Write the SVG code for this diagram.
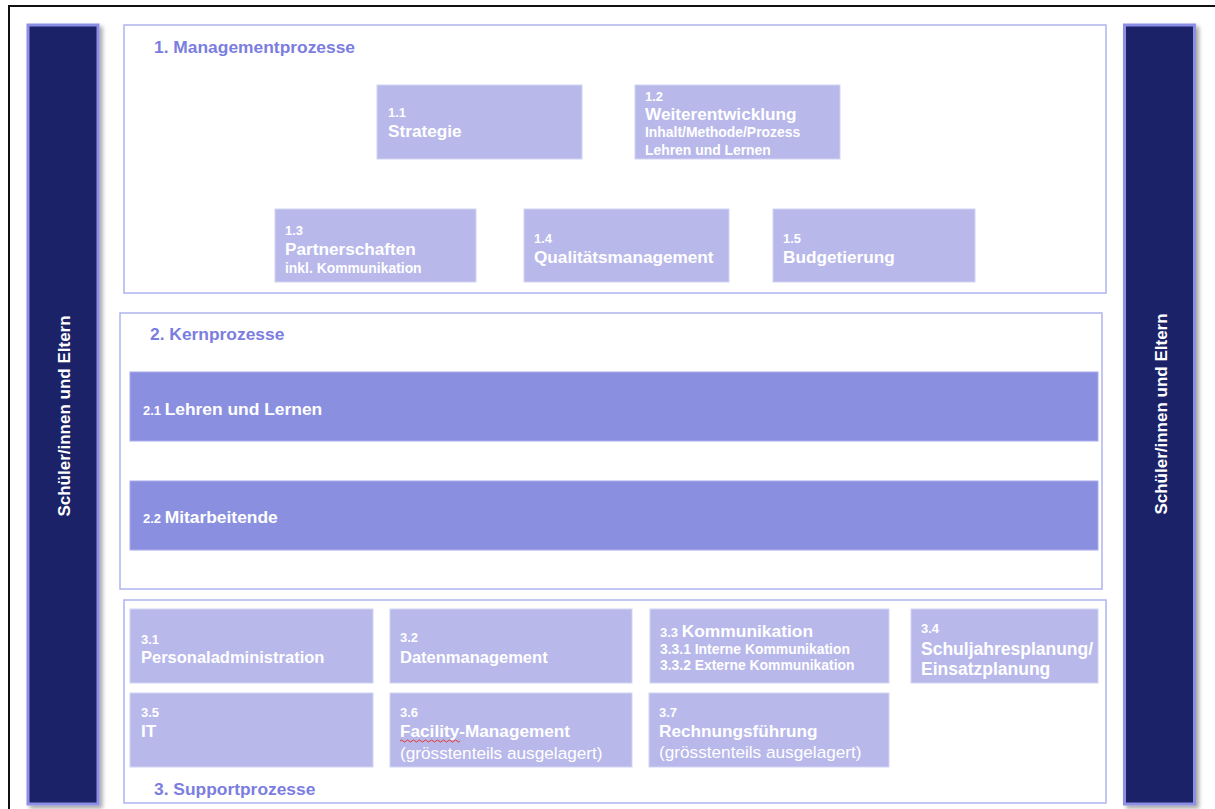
<svg xmlns="http://www.w3.org/2000/svg" width="1215" height="809" viewBox="0 0 1215 809">
  <defs>
    <filter id="shadow" x="-20%" y="-5%" width="150%" height="110%">
      <feDropShadow dx="3" dy="3" stdDeviation="2" flood-color="#000" flood-opacity="0.35"/>
    </filter>
    <style>
      text { font-family: "Liberation Sans", Arial, Helvetica, sans-serif; font-weight: bold; fill: #ffffff; }
      .frame { fill: none; stroke: #111; stroke-width: 2; }
      .side { fill: #1c2068; stroke: #8c8fe3; stroke-width: 3; }
      .sidetxt { font-size: 17px; }
      .section { fill: #ffffff; stroke: #b0b3ef; stroke-width: 1.5; }
      .stitle { font-size: 17.4px; fill: #7b7de0; }
      .node { fill: #b8b8ea; stroke: #d2d3f4; stroke-width: 1; }
      .core { fill: #8a8fe0; stroke: #a9acec; stroke-width: 1; }
      .num { font-size: 13px; }
      .title { font-size: 17.2px; }
      .title2 { font-size: 16.5px; }
      .ktitle { font-size: 17.4px; }
      .sub { font-size: 13.9px; }
      .reg { font-size: 17.2px; font-weight: normal; }
    </style>
  </defs>
  <rect x="0" y="0" width="1215" height="809" fill="#ffffff"/>
  <path class="frame" d="M9,809 V6 H1215"/>

  <g id="side-left">
    <rect class="side" x="28" y="25" width="70" height="779" filter="url(#shadow)"/>
    <text class="sidetxt" transform="translate(70,416) rotate(-90)" text-anchor="middle">Schüler/innen und Eltern</text>
  </g>
  <g id="side-right">
    <rect class="side" x="1124.5" y="25" width="70" height="779" filter="url(#shadow)"/>
    <text class="sidetxt" transform="translate(1167,414) rotate(-90)" text-anchor="middle">Schüler/innen und Eltern</text>
  </g>

  <g id="section-1">
    <rect class="section" x="124" y="25" width="982" height="268"/>
    <text class="stitle" x="154" y="53">1. Managementprozesse</text>
  </g>
  <g id="node-1-1">
    <rect class="node" x="377" y="85" width="205" height="74"/>
    <text class="num" x="388" y="117">1.1</text>
    <text class="title" x="388" y="137">Strategie</text>
  </g>
  <g id="node-1-2">
    <rect class="node" x="635" y="85" width="205" height="74"/>
    <text class="num" x="645" y="101">1.2</text>
    <text class="title" x="645" y="120">Weiterentwicklung</text>
    <text class="sub" x="645" y="137">Inhalt/Methode/Prozess</text>
    <text class="sub" x="645" y="155">Lehren und Lernen</text>
  </g>
  <g id="node-1-3">
    <rect class="node" x="275" y="209" width="201" height="73"/>
    <text class="num" x="285" y="235">1.3</text>
    <text class="title" x="285" y="255">Partnerschaften</text>
    <text class="sub" x="285" y="273">inkl. Kommunikation</text>
  </g>
  <g id="node-1-4">
    <rect class="node" x="524" y="209" width="205" height="73"/>
    <text class="num" x="534" y="243">1.4</text>
    <text class="title" x="534" y="263">Qualitätsmanagement</text>
  </g>
  <g id="node-1-5">
    <rect class="node" x="773" y="209" width="202" height="73"/>
    <text class="num" x="783" y="243">1.5</text>
    <text class="title" x="783" y="263">Budgetierung</text>
  </g>

  <g id="section-2">
    <rect class="section" x="120" y="313" width="982" height="276"/>
    <text class="stitle" x="150" y="340">2. Kernprozesse</text>
  </g>
  <g id="node-2-1">
    <rect class="core" x="130" y="372" width="968" height="69"/>
    <text x="143" y="415"><tspan class="num">2.1 </tspan><tspan class="ktitle">Lehren und Lernen</tspan></text>
  </g>
  <g id="node-2-2">
    <rect class="core" x="130" y="481" width="968" height="69"/>
    <text x="143" y="523"><tspan class="num">2.2 </tspan><tspan class="ktitle">Mitarbeitende</tspan></text>
  </g>

  <g id="section-3">
    <rect class="section" x="124" y="600" width="982" height="203"/>
    <text class="stitle" x="154" y="795">3. Supportprozesse</text>
  </g>
  <g id="node-3-1">
    <rect class="node" x="130" y="609" width="243" height="74"/>
    <text class="num" x="141" y="644">3.1</text>
    <text class="title2" x="141" y="663">Personaladministration</text>
  </g>
  <g id="node-3-2">
    <rect class="node" x="390" y="609" width="242" height="74"/>
    <text class="num" x="400" y="642">3.2</text>
    <text class="title2" x="400" y="663">Datenmanagement</text>
  </g>
  <g id="node-3-3">
    <rect class="node" x="650" y="609" width="239" height="74"/>
    <text x="660" y="637"><tspan class="num">3.3 </tspan><tspan class="ktitle">Kommunikation</tspan></text>
    <text class="sub" x="660" y="654">3.3.1 Interne Kommunikation</text>
    <text class="sub" x="660" y="670">3.3.2 Externe Kommunikation</text>
  </g>
  <g id="node-3-4">
    <rect class="node" x="911" y="609" width="187" height="74"/>
    <text class="num" x="921" y="633">3.4</text>
    <text x="921" y="655" style="font-size:17.5px">Schuljahresplanung/</text>
    <text x="921" y="675" style="font-size:17.5px">Einsatzplanung</text>
  </g>
  <g id="node-3-5">
    <rect class="node" x="130" y="693" width="243" height="74"/>
    <text class="num" x="141" y="717">3.5</text>
    <text class="title" x="141" y="737">IT</text>
  </g>
  <g id="node-3-6">
    <rect class="node" x="390" y="693" width="242" height="74"/>
    <text class="num" x="400" y="717">3.6</text>
    <text class="title" x="400" y="737">Facility-Management</text>
    <path d="M400,741 q1.5,-2 3,0 t3,0 t3,0 t3,0 t3,0 t3,0 t3,0 t3,0 t3,0 t3,0 t3,0 t3,0 t3,0 t3,0 t3,0 t3,0 t3,0 t3,0 t3,0 t3,0" fill="none" stroke="#e0392b" stroke-width="1"/>
    <text class="reg" x="400" y="759">(grösstenteils ausgelagert)</text>
  </g>
  <g id="node-3-7">
    <rect class="node" x="649" y="693" width="240" height="74"/>
    <text class="num" x="659" y="717">3.7</text>
    <text class="title" x="659" y="737">Rechnungsführung</text>
    <text class="reg" x="659" y="758">(grösstenteils ausgelagert)</text>
  </g>

  <g id="connectors"></g>
</svg>
